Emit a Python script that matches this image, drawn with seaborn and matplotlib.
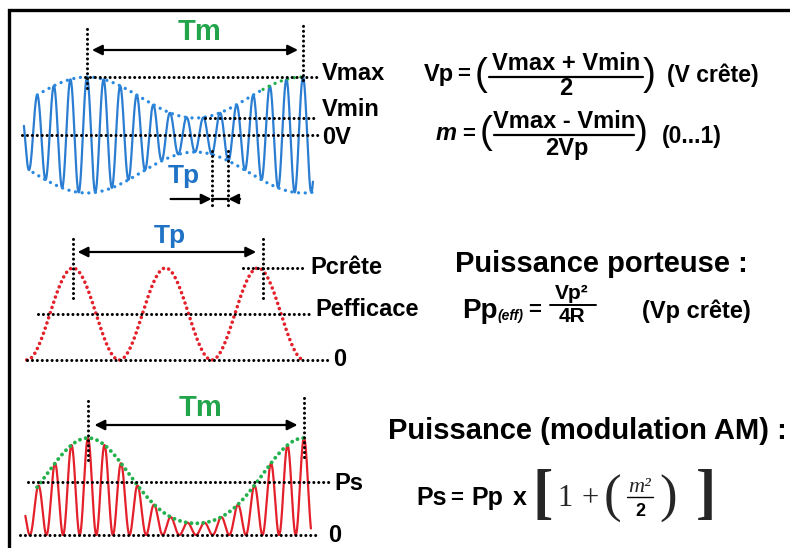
import numpy as np
import matplotlib
matplotlib.use("Agg")
import matplotlib.pyplot as plt
import seaborn as sns

W, H = 790, 548

# values
v_max = 5.8            # panel 1 : envelope peak
v_min = 1.7            # panel 1 : envelope trough
carrier_cycles = 13    # carrier periods in one Tm
p_crete = 1.0          # panel 2 : peak power
p_eff = 0.5            # panel 2 : effective power
carrier_periods = 3    # panel 2 : periods drawn
ps_peak = 1.0          # panel 3 : envelope peak
ps_floor = 0.12        # panel 3 : envelope trough
ps_level = 0.55        # panel 3 : Ps line

levels_1 = ["Vmax", "Vmin", "0V"]
levels_2 = ["Pcrête", "Pefficace", "0"]
levels_3 = ["Ps", "0"]

BLUE = "#2a7dd1"
BLUE_DOT = "#2b8ae0"
TP_BLUE = "#1f72c4"
GREEN = "#21a44a"
GREEN_DOT = "#22b14c"
RED = "#e4202a"

sns.set_theme(style="white")
plt.rcParams["font.family"] = ["Liberation Sans", "DejaVu Sans"]

fig = plt.figure(figsize=(7.9, 5.48), dpi=100)
fig.patch.set_facecolor("white")

bg = fig.add_axes([0, 0, 1, 1])
bg.set_xlim(0, W)
bg.set_ylim(H, 0)
bg.axis("off")
bg.plot([9, 9, W], [H, 10, 10], color="black", lw=2.4, solid_joinstyle="miter")


def panel(x0, xs, y0, ys):
    # x0, y0: pixel of the data origin ; xs, ys: pixels per data unit
    ax = fig.add_axes([0, 0, 1, 1])
    ax.set_xlim(-x0 / xs, (W - x0) / xs)
    ax.set_ylim((y0 - H) / ys, y0 / ys)
    ax.axis("off")
    ax.patch.set_visible(False)
    return ax


def dots(ax, x, y, color="black", lw=2.2, gap=1.6):
    ax.plot(x, y, color=color, lw=lw, linestyle=(0, (0.01, gap)),
            dash_capstyle="round")


def dotted_curve(ax, x, y, color, lw=2.4, gap=1.6):
    sns.lineplot(x=x, y=y, ax=ax, color=color, lw=lw, estimator=None, sort=False,
                 linestyle=(0, (0.01, gap)), dash_capstyle="round")


def arrow(ax, x1, x2, y, style="<|-|>"):
    ax.annotate("", xy=(x2, y), xytext=(x1, y),
                arrowprops=dict(arrowstyle=style, color="black", lw=1.6,
                                mutation_scale=15, shrinkA=0, shrinkB=0))


lab = dict(fontsize=17, fontweight="bold", color="black", va="center",
           textcoords="offset pixels")

# ===============================
# Panel 1 : AM signal
# ===============================
ax1 = panel(87, 216, 135, 10)
vp = (v_max + v_min) / 2
m = (v_max - v_min) / (v_max + v_min)

t = np.linspace(-0.292, 1.046, 4000)
env = vp * (1 + m * np.cos(2 * np.pi * t))
sig = env * np.cos(2 * np.pi * carrier_cycles * t)
sns.lineplot(x=t, y=sig, ax=ax1, color=BLUE, lw=1.6, estimator=None, sort=False)

tu = np.linspace(-0.23, 0.815, 300)
tg = np.linspace(0.815, 1.0, 60)
tl = np.linspace(-0.25, 1.046, 350)
dotted_curve(ax1, tu, vp * (1 + m * np.cos(2 * np.pi * tu)), BLUE_DOT, gap=2.0)
dotted_curve(ax1, tg, vp * (1 + m * np.cos(2 * np.pi * tg)), GREEN_DOT, gap=2.0)
dotted_curve(ax1, tl, -vp * (1 + m * np.cos(2 * np.pi * tl)), BLUE_DOT, gap=2.0)

dots(ax1, [-0.30, 1.069], [0, 0])
dots(ax1, [-0.009, 1.069], [v_max, v_max])
dots(ax1, [0.546, 1.069], [v_min, v_min])
ax1.annotate(levels_1[0], (1.069, v_max), xytext=(4, 3), **lab)
ax1.annotate(levels_1[1], (1.069, v_min), xytext=(4, 8), **lab)
ax1.annotate(levels_1[2], (1.069, 0), xytext=(4, -2), **lab)

dots(ax1, [0, 0], [4.7, 11.0])
dots(ax1, [1, 1], [5.5, 11.3])
arrow(ax1, 0.023, 0.977, 8.5)
ax1.text(0.52, 10.3, "Tm", color=GREEN, fontsize=21, fontweight="bold",
         ha="center", va="center")

ta = 0.5 + 1 / carrier_cycles
tb = 0.5 + 2 / carrier_cycles
dots(ax1, [ta, ta], [-1.6, -7.5])
dots(ax1, [tb, tb], [-1.6, -7.5])
ax1.plot([ta, tb], [-6.4, -6.4], color="black", lw=1.6)
arrow(ax1, ta - 0.19, ta, -6.4, "-|>")
arrow(ax1, tb + 0.055, tb, -6.4, "-|>")
ax1.text(0.449, -4.1, "Tp", color=TP_BLUE, fontsize=19, fontweight="bold",
         ha="center", va="center")

# ===============================
# Panel 2 : carrier power
# ===============================
ax2 = panel(73, 92.5, 360, 92)
t2 = np.linspace(-0.5, carrier_periods - 0.5, 1200)
dotted_curve(ax2, t2, p_crete * np.cos(np.pi * t2) ** 2, RED, lw=2.6, gap=1.5)

dots(ax2, [-0.497, 2.757], [0, 0])
dots(ax2, [-0.378, 2.584], [p_eff, p_eff])
dots(ax2, [1.838, 2.519], [p_crete, p_crete])
ax2.annotate(levels_2[0], (2.519, p_crete), xytext=(4, 0), **lab)
ax2.annotate(levels_2[1], (2.584, p_eff), xytext=(3, 4), **lab)
ax2.annotate(levels_2[2], (2.757, 0), xytext=(5, 0), **lab)

dots(ax2, [0, 0], [0.674, 1.337])
dots(ax2, [2.05, 2.05], [0.674, 1.357])
arrow(ax2, 0.05, 1.98, 1.174)
ax2.text(1.05, 1.35, "Tp", color=TP_BLUE, fontsize=19, fontweight="bold",
         ha="center", va="center")

# ===============================
# Panel 3 : power of the AM signal
# ===============================
ax3 = panel(88, 216, 535, 97)
a, b = np.sqrt(ps_peak), np.sqrt(ps_floor)
t3 = np.linspace(-0.29, 1.032, 4000)
e3 = (a + b) / 2 + (a - b) / 2 * np.cos(2 * np.pi * t3)
sig3 = e3 ** 2 * np.cos(np.pi * carrier_cycles * t3) ** 2
sns.lineplot(x=t3, y=sig3, ax=ax3, color=RED, lw=1.6, estimator=None, sort=False)

tg3 = np.linspace(-0.236, 1.023, 400)
eg3 = (a + b) / 2 + (a - b) / 2 * np.cos(2 * np.pi * tg3)
dotted_curve(ax3, tg3, eg3 ** 2, GREEN_DOT, lw=2.8, gap=1.5)

dots(ax3, [-0.315, 1.074], [0, 0])
dots(ax3, [-0.278, 1.12], [ps_level, ps_level])
ax3.annotate(levels_3[0], (1.12, ps_level), xytext=(4, -2), **lab)
ax3.annotate(levels_3[1], (1.074, 0), xytext=(8, 0), **lab)

dots(ax3, [0, 0], [0.773, 1.392])
dots(ax3, [1, 1], [0.804, 1.423])
arrow(ax3, 0.03, 0.97, 1.134)
ax3.text(0.523, 1.31, "Tm", color=GREEN, fontsize=21, fontweight="bold",
         ha="center", va="center")

# ===============================
# Formulas
# ===============================
def txt(x, y, s, size, ha="left", va="baseline", weight="bold", **kw):
    bg.text(x, y, s, fontsize=size, ha=ha, va=va, fontweight=weight,
            color="black", **kw)


# Vp
txt(424, 81, "Vp", 17)
txt(464, 75, "=", 16, ha="center", va="center")
txt(481, 75, "(", 28, ha="center", va="center", weight="normal")
txt(566, 70, "Vmax + Vmin", 17, ha="center")
bg.plot([489, 643], [77, 77], color="black", lw=1.6)
txt(566, 95, "2", 17, ha="center")
txt(649, 75, ")", 28, ha="center", va="center", weight="normal")
txt(667, 82, "(V crête)", 16.5)

# m
txt(436, 140, "m", 17, style="italic")
txt(469, 134, "=", 16, ha="center", va="center")
txt(486, 133, "(", 28, ha="center", va="center", weight="normal")
txt(564, 128, "Vmax - Vmin", 17, ha="center")
bg.plot([494, 634], [135, 135], color="black", lw=1.6)
txt(567, 155, "2Vp", 17, ha="center")
txt(641, 133, ")", 28, ha="center", va="center", weight="normal")
txt(662, 143, "(0...1)", 16.5)

# carrier power
txt(462, 318, "Pp", 20)
txt(497, 320, "(eff)", 10, style="italic")
txt(535, 311, "=", 16, ha="center", va="center")
txt(572, 299, "Vp²", 15, ha="center")
bg.plot([550, 596], [305, 305], color="black", lw=1.4)
txt(572, 322, "4R", 15, ha="center")
txt(642, 318, "(Vp crête)", 17)
txt(455, 272, "Puissance porteuse :", 21)

# AM power
txt(388, 439, "Puissance (modulation AM) :", 21)
txt(416, 505, "Ps", 18)
txt(457, 498, "=", 16, ha="center", va="center")
txt(471, 505, "Pp", 18)
txt(513, 505, "x", 18)
serif = ["Liberation Serif", "DejaVu Serif"]
bg.text(543, 497, "[", fontsize=44, ha="center", va="center", family=serif,
        fontweight="bold")
bg.text(565, 506, "1", fontsize=22, ha="center", family=serif)
bg.text(590, 499, "+", fontsize=22, ha="center", va="center", family=serif)
bg.text(612, 499, "(", fontsize=38, ha="center", va="center", family=serif)
bg.text(640, 492, "m²", fontsize=16, ha="center", family=serif, style="italic")
bg.plot([627, 653], [497, 497], color="black", lw=1.0)
txt(640, 516, "2", 13, ha="center")
bg.text(668, 499, ")", fontsize=38, ha="center", va="center", family=serif)
bg.text(706, 497, "]", fontsize=44, ha="center", va="center", family=serif,
        fontweight="bold")

fig.savefig("out.png", dpi=100, facecolor="white")
